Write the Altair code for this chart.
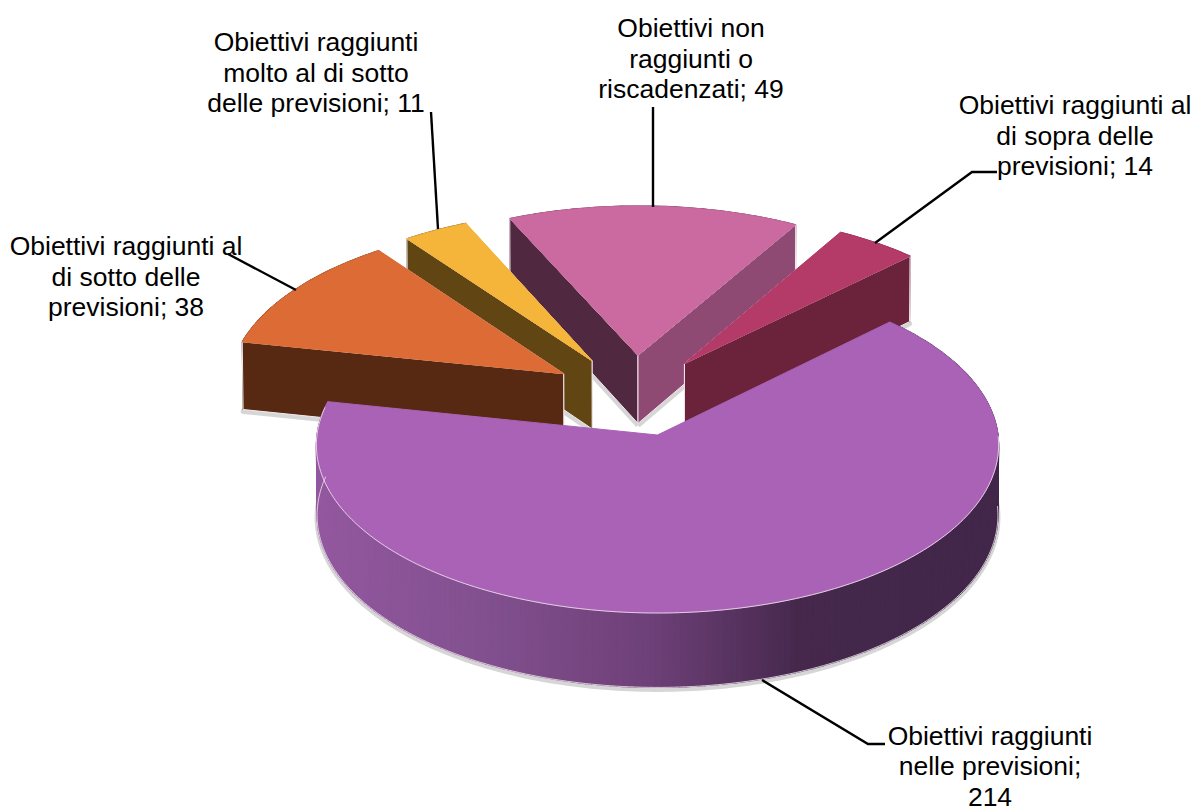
import math
import altair as alt
import pandas as pd

# ---- chart values
labels = [
    "Obiettivi raggiunti\nnelle previsioni;\n214",
    "Obiettivi raggiunti al\ndi sotto delle\nprevisioni; 38",
    "Obiettivi raggiunti\nmolto al di sotto\ndelle previsioni; 11",
    "Obiettivi non\nraggiunti o\nriscadenzati; 49",
    "Obiettivi raggiunti al\ndi sopra delle\nprevisioni; 14",
]
values = [214, 38, 11, 49, 14]
top_colors = ["#a962b5", "#dd6b35", "#f5b43a", "#cb6aa0", "#b43a67"]
first_face = ["#8c5a9e", "#572812", "#614513", "#50283f", "#6a233b"]   # radial face at slice start
last_face = ["#42274a", "#572812", "#614513", "#8f4a73", "#6a233b"]    # radial face at slice end

# ---- layout of the label blocks (centre x, first line y) and leader lines (reference pixels)
label_x = [990, 126, 316, 691, 1075]
label_y = [736.5, 247, 43, 29, 106]
leaders = [
    [(762, 680), (868, 744), (885, 744)],
    [(296, 290), (228, 254)],
    [(438, 229), (431, 112)],
    [(653, 207), (653, 107)],
    [(875, 243), (972, 172), (997, 172)],
]

# ---- 3D pie camera model
W, H = 1184, 801
X0, Y0 = 657.5, 435.0
F, G, K = 340.5, 167.4, 0.0595
DROP, SHRINK = 70.0, 0.998
EXPLODE = 0.25
START = 45.3
draw_order = [3, 4, 2, 1, 0]


def project(u, v, bottom=False):
    w = 1 + K * v
    x = X0 + F * u / w
    y = Y0 - G * v / w
    if bottom:
        y += DROP / w
        x = X0 + (x - X0) * SHRINK
    return x, y


def lerp_hex(stops, t):
    for (t0, c0), (t1, c1) in zip(stops, stops[1:]):
        if t <= t1:
            f = max(0.0, (t - t0) / (t1 - t0))
            a = [int(c0[i:i + 2], 16) for i in (1, 3, 5)]
            b = [int(c1[i:i + 2], 16) for i in (1, 3, 5)]
            return "#%02x%02x%02x" % tuple(round(p + (q - p) * f) for p, q in zip(a, b))
    return stops[-1][1]


WALL = [(317, "#93589f"), (480, "#82508f"), (650, "#6e4078"), (800, "#45284c"), (1000, "#42274a")]

total = sum(values)
spans = []
a = START
for val in values:
    b = a + 360.0 * val / total
    spans.append((a, b))
    a = b
mid0 = math.radians(sum(spans[0]) / 2)
cu0, cv0 = -EXPLODE * math.sin(mid0), -EXPLODE * math.cos(mid0)

rows = []
pid = 0


def add(points, fill, stroke, sw, close=True):
    global pid
    pts = list(points) + ([points[0]] if close else [])
    for i, (x, y) in enumerate(pts):
        rows.append({"x": x, "y": y, "i": i, "id": f"p{pid:04d}", "fill": fill, "stroke": stroke, "sw": sw})
    pid += 1


EDGE = "#f3e9ef"
SHADOW = "#d6d6d6"
for n in draw_order:
    t1, t2 = spans[n]
    m = math.radians((t1 + t2) / 2)
    cu = cu0 + EXPLODE * math.sin(m)
    cv = cv0 + EXPLODE * math.cos(m)
    steps = max(4, int(t2 - t1))
    ang = [math.radians(t1 + (t2 - t1) * i / steps) for i in range(steps + 1)]
    rim = [(cu + math.sin(q), cv + math.cos(q)) for q in ang]
    tip_t, tip_b = project(cu, cv), project(cu, cv, True)
    bottom_rim = [project(*r, True) for r in rim]
    # soft ground shadow under the bottom outline
    outline = bottom_rim if n == 0 else [tip_b] + bottom_rim
    add([(x, y + 2) for x, y in outline], "transparent", SHADOW, 5, close=n != 0)
    # rim wall
    for i in range(steps):
        p, q = rim[i], rim[i + 1]
        A, B = project(*p), project(*q)
        C, D = project(*q, True), project(*p, True)
        col = lerp_hex(WALL, (A[0] + B[0]) / 2) if n == 0 else first_face[n]
        add([A, B, C, D], col, col, 1.2)
    # radial faces: the hidden one first
    if n != 0:
        f_first = [tip_t, project(*rim[0]), project(*rim[0], True), tip_b]
        f_last = [tip_t, project(*rim[-1]), project(*rim[-1], True), tip_b]
        if n in (3, 4):
            add(f_first, first_face[n], EDGE, 1)
            add(f_last, last_face[n], EDGE, 1)
        else:
            add(f_last, last_face[n], EDGE, 1)
            add(f_first, first_face[n], EDGE, 1)
    # top face
    add([tip_t] + [project(*r) for r in rim], top_colors[n], top_colors[n], 1)
    # thin light edges along the front of the big slice
    if n == 0:
        front_top = [project(*r) for r, q in zip(rim, ang) if 90 <= math.degrees(q) <= 280]
        front_bot = [project(*r, True) for r, q in zip(rim, ang) if 90 <= math.degrees(q) <= 280]
        add(front_top, "transparent", EDGE, 0.8, close=False)
        add(front_bot, "transparent", EDGE, 0.8, close=False)

df = pd.DataFrame(rows)

xs = alt.Scale(domain=[8, 8 + W])
ys = alt.Scale(domain=[8 + H, 8])

pie = alt.Chart(df).mark_line(interpolate="linear", strokeJoin="round").encode(
    x=alt.X("x:Q", scale=xs, axis=None),
    y=alt.Y("y:Q", scale=ys, axis=None),
    order="i:Q",
    detail="id:N",
    fill=alt.Fill("fill:N", scale=None),
    stroke=alt.Stroke("stroke:N", scale=None),
    strokeWidth=alt.StrokeWidth("sw:Q", scale=None),
)

lead_rows = []
for k, line in enumerate(leaders):
    for i, (x, y) in enumerate(line):
        lead_rows.append({"x": x, "y": y, "i": i, "id": f"l{k}"})
lead = alt.Chart(pd.DataFrame(lead_rows)).mark_line(color="black", strokeWidth=2.4).encode(
    x=alt.X("x:Q", scale=xs, axis=None),
    y=alt.Y("y:Q", scale=ys, axis=None),
    order="i:Q",
    detail="id:N",
)

text = alt.Chart(pd.DataFrame({"label": labels, "x": label_x, "y": label_y})).mark_text(
    font="Liberation Sans", fontSize=26.5, lineBreak="\n", lineHeight=30.5,
    align="center", baseline="middle", color="black",
).encode(
    x=alt.X("x:Q", scale=xs, axis=None),
    y=alt.Y("y:Q", scale=ys, axis=None),
    text="label:N",
)

chart = (pie + lead + text).properties(
    width=W, height=H, padding=0, autosize=alt.AutoSizeParams(type="none")
).configure_view(stroke=None)
chart.save("out.html", embed_options={"renderer": "svg", "actions": False})
